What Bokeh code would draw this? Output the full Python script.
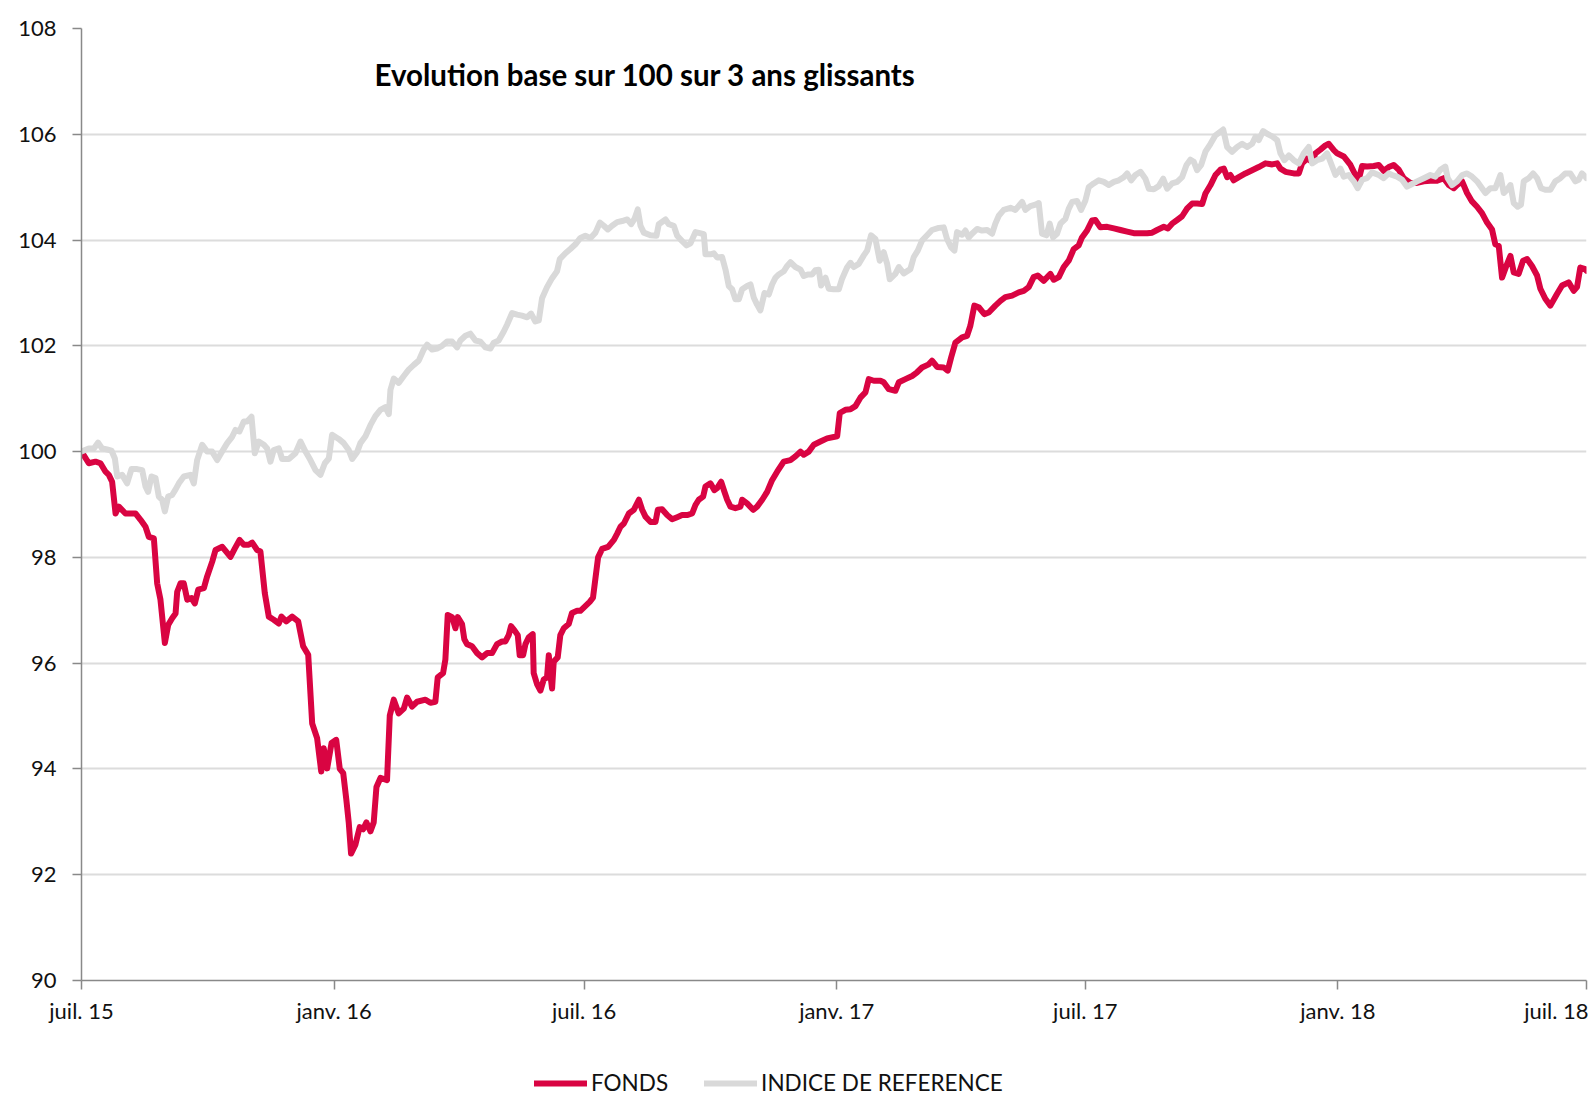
from datetime import datetime, timedelta
from bokeh.plotting import figure
from bokeh.layouts import column
from bokeh.models import Range1d, FixedTicker, Legend, LegendItem, Label
from bokeh.embed import file_html
from bokeh.resources import INLINE

start_date = datetime(2015, 7, 1)
end_date = datetime(2018, 7, 1)

tick_dates = ["2015-07-01", "2016-01-01", "2016-07-01", "2017-01-01",
              "2017-07-01", "2018-01-01", "2018-07-01"]
tick_labels = ["juil. 15", "janv. 16", "juil. 16", "janv. 17",
               "juil. 17", "janv. 18", "juil. 18"]
y_ticks = [90, 92, 94, 96, 98, 100, 102, 104, 106, 108]

series_names = ["FONDS", "INDICE DE REFERENCE"]

# days since 2015-07-01
fonds_days = [0, 5.3, 10.2, 13.8, 17.5, 19.9, 22.3, 24.8, 27.2, 32.0, 39.3, 43.0, 46.6, 49.0, 52.7,
              55.1, 57.5, 60.7, 63.1, 66.0, 68.5, 69.7, 72.1, 74.5, 77.0, 80.1, 82.5, 85.0, 89.1,
              91.5, 95.2, 97.6, 102.5, 108.5, 111.7, 115.1, 118.2, 121.8, 124.3, 127.9, 130.3,
              133.5, 136.4, 140.0, 143.7, 145.6, 149.1, 153.4, 157.8, 161.4, 165.1, 168.0, 171.6,
              174.6, 176.4, 178.9, 182.1, 185.5, 188.1, 190.6, 192.9, 194.6, 196.3, 199.5, 202.6,
              205.1, 207.5, 210.4, 212.8, 214.8, 217.7, 222.5, 224.5, 227.4, 231.0, 234.7, 237.1,
              240.7, 244.4, 250.5, 254.1, 257.7, 259.4, 263.3, 265.0, 266.7, 269.9, 272.3, 274.0,
              277.1, 278.8, 280.8, 284.4, 288.1, 291.7, 295.4, 299.0, 302.6, 306.3, 308.7, 311.1,
              312.8, 315.3, 317.7, 319.1, 321.6, 323.3, 325.7, 328.6, 329.3, 331.8, 334.2, 336.6,
              339.0, 340.3, 341.5, 342.7, 343.9, 346.8, 348.7, 351.2, 354.8, 357.2, 360.9, 363.3,
              366.9, 370.1, 372.5, 376.2, 379.1, 383.5, 387.7, 390.1, 392.5, 395.0, 398.6, 402.2,
              405.9, 408.3, 410.7, 414.4, 418.0, 419.7, 422.8, 426.5, 430.1, 433.8, 437.4, 441.0,
              444.7, 447.1, 449.5, 452.7, 454.4, 458.0, 460.9, 462.9, 465.8, 468.2, 470.2, 472.6,
              476.2, 479.9, 481.1, 484.7, 489.1, 492.0, 495.7, 499.3, 502.9, 506.6, 511.4, 516.3,
              519.9, 523.6, 526.0, 529.6, 533.3, 538.1, 543.0, 550.3, 552.2, 556.3, 560.0, 563.6,
              567.2, 570.9, 573.3, 577.0, 581.8, 584.2, 587.9, 592.7, 595.2, 600.0, 604.9, 608.5,
              612.1, 617.0, 619.4, 623.1, 627.9, 630.8, 633.3, 636.4, 641.3, 644.9, 647.3, 650.2,
              653.4, 657.5, 660.7, 665.5, 669.2, 672.8, 677.7, 682.5, 686.2, 689.8, 693.4, 696.4,
              700.7, 705.6, 708.0, 711.7, 715.3, 718.9, 722.6, 726.2, 728.6, 732.3, 735.9, 738.3,
              742.0, 746.9, 751.8, 756.6, 761.5, 766.3, 771.2, 776.0, 779.7, 783.3, 788.2, 791.1,
              794.2, 797.9, 801.5, 805.2, 808.8, 812.4, 816.1, 818.5, 822.2, 825.8, 829.4, 831.9,
              834.3, 836.7, 839.1, 842.8, 847.6, 852.5, 857.3, 862.2, 867.1, 870.7, 873.1, 876.8,
              882.8, 886.5, 888.9, 892.5, 896.2, 898.6, 902.2, 905.9, 908.3, 912.0, 914.4, 919.2,
              924.1, 927.7, 930.1, 932.6, 936.2, 941.1, 944.7, 948.3, 952.0, 955.6, 959.3, 962.9,
              967.7, 972.6, 977.5, 982.3, 987.2, 992.0, 995.7, 999.3, 1001.7, 1005.4, 1009.0,
              1012.6, 1016.3, 1019.9, 1023.6, 1027.2, 1029.6, 1032.1, 1034.5, 1037.6, 1040.6,
              1043.0, 1046.6, 1049.8, 1052.7, 1056.3, 1060.0, 1062.4, 1066.0, 1069.7, 1074.5,
              1078.2, 1083.0, 1086.7, 1089.1, 1091.5, 1095.2, 1096.0]
fonds_values = [100.0, 99.78, 99.81, 99.78, 99.62, 99.56, 99.43, 98.83, 98.96, 98.83, 98.83, 98.71,
                98.58, 98.39, 98.36, 97.51, 97.2, 96.38, 96.72, 96.85, 96.94, 97.35, 97.51, 97.51,
                97.2, 97.23, 97.13, 97.39, 97.42, 97.64, 97.92, 98.14, 98.2, 98.01, 98.17, 98.33,
                98.24, 98.24, 98.28, 98.14, 98.11, 97.32, 96.88, 96.82, 96.75, 96.88, 96.79, 96.88,
                96.79, 96.32, 96.16, 94.86, 94.58, 93.95, 94.39, 94.01, 94.49, 94.55, 94.0, 93.92,
                93.41, 92.99, 92.40, 92.57, 92.90, 92.86, 92.99, 92.82, 92.99, 93.66, 93.83, 93.79,
                95.01, 95.31, 95.05, 95.14, 95.35, 95.18, 95.27, 95.31, 95.25, 95.27, 95.73, 95.81,
                96.07, 96.91, 96.87, 96.66, 96.87, 96.74, 96.45, 96.36, 96.32, 96.19, 96.11, 96.19,
                96.19, 96.36, 96.41, 96.41, 96.53, 96.70, 96.62, 96.53, 96.15, 96.15, 96.36, 96.49,
                96.55, 95.81, 95.60, 95.48, 95.69, 95.73, 96.15, 95.77, 95.52, 96.03, 96.11, 96.53,
                96.66, 96.74, 96.95, 96.99, 96.99, 97.08, 97.16, 97.24, 98.0, 98.16, 98.2, 98.33,
                98.45, 98.58, 98.64, 98.83, 98.90, 99.09, 98.90, 98.77, 98.67, 98.67, 98.90, 98.91,
                98.80, 98.72, 98.76, 98.80, 98.80, 98.83, 98.99, 99.09, 99.15, 99.34, 99.40, 99.27,
                99.31, 99.43, 99.24, 99.09, 98.96, 98.93, 98.96, 99.09, 99.02, 98.90, 98.96, 99.09,
                99.24, 99.46, 99.62, 99.81, 99.84, 99.91, 100.0, 99.94, 100.0, 100.13, 100.19,
                100.25, 100.29, 100.73, 100.79, 100.8, 100.86, 101.02, 101.12, 101.37, 101.34,
                101.34, 101.31, 101.18, 101.15, 101.31, 101.37, 101.43, 101.50, 101.59, 101.65,
                101.72, 101.60, 101.59, 101.53, 101.78, 102.06, 102.16, 102.19, 102.38, 102.76,
                102.73, 102.60, 102.63, 102.76, 102.85, 102.92, 102.95, 103.01, 103.04, 103.11,
                103.30, 103.33, 103.23, 103.36, 103.25, 103.30, 103.49, 103.61, 103.83, 103.90,
                104.05, 104.18, 104.37, 104.38, 104.24, 104.25, 104.22, 104.19, 104.16, 104.13,
                104.13, 104.13, 104.14, 104.19, 104.25, 104.22, 104.31, 104.38, 104.45, 104.60,
                104.69, 104.69, 104.68, 104.88, 105.04, 105.23, 105.33, 105.35, 105.19, 105.23,
                105.13, 105.19, 105.26, 105.32, 105.38, 105.45, 105.43, 105.45, 105.35, 105.29,
                105.26, 105.26, 105.45, 105.54, 105.48, 105.64, 105.71, 105.79, 105.82, 105.70,
                105.64, 105.58, 105.42, 105.23, 105.14, 105.40, 105.39, 105.40, 105.42, 105.31,
                105.38, 105.42, 105.33, 105.17, 105.08, 105.08, 105.11, 105.12, 105.12, 105.17,
                105.04, 104.98, 105.04, 105.11, 104.89, 104.73, 104.63, 104.51, 104.33, 104.20,
                103.92, 103.89, 103.29, 103.51, 103.70, 103.39, 103.36, 103.61, 103.64, 103.51,
                103.33, 103.08, 102.89, 102.76, 102.98, 103.14, 103.20, 103.04, 103.11, 103.48,
                103.45, 103.42]

indice_days = [0, 5.3, 9.0, 12.1, 15.0, 18.7, 21.8, 24.3, 26.0, 29.6, 33.2, 36.4, 40.5, 44.2, 46.6,
               48.5, 51.0, 53.9, 56.3, 58.7, 60.7, 63.1, 66.0, 68.4, 70.9, 74.5, 79.4, 81.8, 84.2,
               87.9, 91.5, 95.1, 98.8, 102.4, 106.1, 109.7, 112.1, 115.0, 118.2, 120.6, 123.8,
               126.2, 129.1, 132.8, 135.2, 137.6, 140.0, 143.7, 146.1, 151.0, 155.8, 159.5, 163.1,
               166.7, 170.4, 174.0, 177.2, 180.1, 182.5, 187.3, 191.0, 194.6, 197.1, 200.7, 203.1,
               206.8, 210.4, 214.0, 217.7, 221.3, 223.8, 225.0, 227.4, 231.0, 234.7, 238.3, 242.0,
               245.6, 249.2, 251.7, 255.3, 258.9, 262.6, 266.2, 269.9, 273.5, 275.9, 279.6, 283.2,
               286.9, 290.5, 294.1, 297.8, 300.2, 303.8, 307.5, 309.9, 313.6, 317.2, 320.8, 324.5,
               327.4, 330.5, 333.0, 335.4, 339.0, 342.7, 346.3, 348.3, 352.4, 356.0, 359.7, 363.3,
               366.9, 370.7, 374.3, 377.5, 380.4, 383.3, 386.4, 390.1, 393.7, 397.4, 400.3, 402.7,
               405.1, 407.1, 409.5, 414.3, 418.7, 420.4, 425.3, 427.7, 431.3, 433.8, 437.4, 440.6,
               443.5, 447.1, 450.3, 453.2, 454.4, 458.0, 460.5, 462.9, 466.5, 469.0, 471.4, 473.8,
               476.2, 478.7, 481.1, 484.7, 487.2, 489.6, 492.0, 494.4, 497.4, 500.5, 502.9, 505.4,
               507.8, 511.4, 513.9, 516.3, 519.9, 523.6, 526.0, 528.9, 532.1, 534.5, 536.9, 538.6,
               541.8, 544.2, 547.8, 551.5, 553.9, 557.5, 560.0, 562.4, 566.0, 569.7, 572.1, 575.0,
               578.2, 581.3, 584.2, 586.7, 588.6, 592.7, 595.2, 598.8, 603.6, 606.1, 609.0, 612.1,
               615.8, 619.4, 624.3, 627.9, 630.3, 633.3, 635.7, 637.6, 641.3, 643.7, 646.1, 648.5,
               652.2, 655.8, 659.5, 663.1, 665.5, 668.0, 671.6, 676.5, 680.1, 685.0, 687.4, 691.0,
               694.7, 697.1, 699.5, 702.7, 705.1, 707.5, 710.4, 712.9, 716.5, 718.9, 721.4, 725.0,
               727.9, 731.1, 733.5, 737.1, 740.8, 744.5, 748.1, 751.8, 755.4, 759.1, 761.5, 764.4,
               767.5, 771.2, 774.8, 777.3, 780.9, 784.5, 787.7, 790.6, 794.2, 797.9, 801.5, 804.7,
               807.6, 810.0, 812.4, 815.4, 818.5, 822.2, 825.8, 831.4, 834.3, 837.9, 841.6, 845.2,
               848.9, 852.5, 854.9, 857.3, 860.5, 863.4, 867.1, 870.7, 873.1, 876.0, 879.2, 882.8,
               886.5, 890.1, 893.7, 896.2, 899.8, 903.5, 907.1, 909.5, 913.2, 916.8, 919.2, 922.8,
               926.5, 929.4, 932.6, 936.2, 939.8, 944.7, 948.3, 952.0, 954.4, 958.0, 961.7, 965.3,
               969.0, 972.6, 977.5, 982.3, 986.0, 989.6, 993.2, 994.9, 998.1, 1001.7, 1005.4,
               1009.0, 1012.6, 1016.3, 1019.9, 1022.4, 1026.0, 1029.6, 1033.3, 1035.7, 1038.1,
               1040.6, 1043.0, 1045.9, 1048.3, 1050.3, 1053.9, 1057.1, 1060.0, 1062.9, 1066.0,
               1069.7, 1073.3, 1077.0, 1080.6, 1084.2, 1087.9, 1090.3, 1092.7, 1095.2, 1096.0]
indice_values = [100.0, 100.06, 100.06, 100.17, 100.06, 100.04, 100.02, 99.87, 99.53, 99.56, 99.40,
                 99.67, 99.67, 99.65, 99.34, 99.24, 99.53, 99.50, 99.15, 99.09, 98.87, 99.15, 99.18,
                 99.28, 99.40, 99.53, 99.56, 99.40, 99.84, 100.13, 100.0, 100.0, 99.84, 100.0,
                 100.16, 100.28, 100.41, 100.38, 100.57, 100.57, 100.66, 99.97, 100.19, 100.13,
                 100.06, 99.81, 100.03, 100.06, 99.86, 99.86, 99.97, 100.19, 100.0, 99.84, 99.65,
                 99.56, 99.78, 99.87, 100.32, 100.24, 100.16, 100.03, 99.86, 99.99, 100.16, 100.29,
                 100.50, 100.67, 100.79, 100.84, 100.71, 101.17, 101.38, 101.30, 101.43, 101.55,
                 101.64, 101.72, 101.93, 102.02, 101.93, 101.95, 102.0, 102.08, 102.08, 101.97,
                 102.10, 102.19, 102.23, 102.10, 102.08, 101.97, 101.95, 102.06, 102.10, 102.27,
                 102.40, 102.62, 102.59, 102.57, 102.54, 102.61, 102.46, 102.48, 102.90, 103.11,
                 103.28, 103.41, 103.64, 103.75, 103.83, 103.92, 104.04, 104.08, 104.04, 104.14,
                 104.33, 104.27, 104.20, 104.27, 104.34, 104.36, 104.39, 104.30, 104.40, 104.58,
                 104.27, 104.14, 104.09, 104.08, 104.30, 104.39, 104.30, 104.27, 104.08, 103.98,
                 103.90, 103.94, 104.15, 104.13, 104.11, 103.73, 103.73, 103.75, 103.67, 103.68,
                 103.44, 103.13, 103.07, 102.88, 102.88, 103.07, 103.13, 103.16, 102.91, 102.78,
                 102.67, 103.0, 102.97, 103.16, 103.29, 103.35, 103.41, 103.51, 103.58, 103.49,
                 103.44, 103.32, 103.35, 103.35, 103.43, 103.44, 103.14, 103.29, 103.08, 103.07,
                 103.07, 103.27, 103.48, 103.57, 103.49, 103.55, 103.71, 103.80, 104.09, 104.02,
                 103.61, 103.77, 103.55, 103.26, 103.36, 103.49, 103.37, 103.45, 103.68, 103.80,
                 103.99, 104.09, 104.19, 104.23, 104.24, 104.02, 103.86, 103.80, 104.15, 104.10,
                 104.18, 104.05, 104.12, 104.21, 104.18, 104.19, 104.12, 104.31, 104.46, 104.57,
                 104.61, 104.57, 104.72, 104.57, 104.64, 104.67, 104.70, 104.12, 104.09, 104.31,
                 104.05, 104.12, 104.31, 104.40, 104.59, 104.72, 104.74, 104.57, 104.75, 105.0,
                 105.07, 105.13, 105.10, 105.04, 105.10, 105.13, 105.19, 105.26, 105.13, 105.23,
                 105.29, 105.16, 104.97, 104.96, 105.02, 105.16, 104.97, 105.07, 105.10, 105.19,
                 105.42, 105.52, 105.48, 105.32, 105.42, 105.67, 105.82, 105.98, 106.09, 105.76,
                 105.67, 105.76, 105.82, 105.76, 105.82, 105.95, 105.89, 106.06, 106.01, 105.96,
                 105.89, 105.64, 105.51, 105.60, 105.51, 105.45, 105.64, 105.76, 105.45, 105.51,
                 105.54, 105.64, 105.48, 105.23, 105.35, 105.20, 105.23, 105.11, 104.98, 105.14,
                 105.17, 105.28, 105.23, 105.17, 105.26, 105.23, 105.20, 105.14, 105.01, 105.06,
                 105.11, 105.17, 105.23, 105.20, 105.33, 105.39, 105.17, 105.04, 105.11, 105.23,
                 105.26, 105.20, 105.11, 104.98, 104.89, 104.98, 104.98, 105.23, 104.89, 104.95,
                 105.04, 104.70, 104.63, 104.67, 105.11, 105.17, 105.26, 105.17, 104.98, 104.95,
                 104.95, 105.11, 105.17, 105.26, 105.26, 105.11, 105.14, 105.26, 105.20, 105.17]

fonds_x = [start_date + timedelta(days=d) for d in fonds_days]
indice_x = [start_date + timedelta(days=d) for d in indice_days]

FONT = "Lato"
RED = "#d90442"
GREY = "#d9d9d9"
LINE_W = 6

p = figure(width=1588, height=1045, x_axis_type="datetime",
           x_range=Range1d(start_date, end_date), y_range=Range1d(90, 108),
           output_backend="svg", toolbar_location=None,
           min_border_left=81, min_border_right=2, min_border_top=28, min_border_bottom=65)
p.outline_line_color = None
p.background_fill_color = "white"
p.border_fill_color = "white"

p.line(fonds_x, fonds_values, line_color=RED, line_width=LINE_W,
       line_join="round", line_cap="round")
p.line(indice_x, indice_values, line_color=GREY, line_width=LINE_W,
       line_join="round", line_cap="round")

epoch = datetime(1970, 1, 1)
tick_ms = [(datetime.strptime(d, "%Y-%m-%d") - epoch).total_seconds() * 1000 for d in tick_dates]
p.xaxis.ticker = FixedTicker(ticks=tick_ms)
p.xaxis.major_label_overrides = {t: lab for t, lab in zip(tick_ms, tick_labels)}
p.yaxis.ticker = FixedTicker(ticks=y_ticks)

for ax in (p.xaxis[0], p.yaxis[0]):
    ax.axis_line_color = "#898989"
    ax.axis_line_width = 1.5
    ax.major_tick_line_color = "#898989"
    ax.major_tick_line_width = 1.5
    ax.major_tick_in = 0
    ax.major_tick_out = 9
    ax.minor_tick_line_color = None
    ax.major_label_text_font = FONT
    ax.major_label_text_font_size = "22px"
    ax.major_label_text_color = "#111111"
p.yaxis.major_label_standoff = 16
p.xaxis.major_label_standoff = 7

p.xgrid.grid_line_color = None
p.ygrid.grid_line_color = "#dcdcdc"
p.ygrid.grid_line_width = 2

title = Label(x=293, y=906, x_units="screen", y_units="screen",
              text="Evolution base sur 100 sur 3 ans glissants",
              text_font=FONT, text_font_style="bold", text_font_size="29.5px",
              text_baseline="middle", text_align="left", text_color="#000000")
p.add_layout(title)

# legend strip below the chart (the series are plotted there outside its visible range,
# only so that the legend swatches are drawn)
leg = figure(width=1588, height=52, x_range=Range1d(0, 1), y_range=Range1d(0, 1),
             output_backend="svg", toolbar_location=None,
             x_axis_location=None, y_axis_location=None,
             min_border_left=0, min_border_right=0, min_border_top=0, min_border_bottom=0)
leg.outline_line_color = None
leg.xgrid.grid_line_color = None
leg.ygrid.grid_line_color = None
lf = leg.line(fonds_days, fonds_values, line_color=RED, line_width=LINE_W, line_cap="round")
li = leg.line(indice_days, indice_values, line_color=GREY, line_width=LINE_W, line_cap="round")
legend = Legend(items=[LegendItem(label=series_names[0], renderers=[lf]),
                       LegendItem(label=series_names[1], renderers=[li])],
                orientation="horizontal", location=(453, 1),
                glyph_width=53, glyph_height=24, label_height=24, label_standoff=4,
                spacing=36, padding=0, margin=0, border_line_color=None,
                background_fill_alpha=0, label_text_font=FONT,
                label_text_font_size="22.5px", label_text_color="#111111")
leg.add_layout(legend, "center")

layout = column(p, leg, spacing=0)
open("out.html", "w").write(file_html(layout, INLINE))
